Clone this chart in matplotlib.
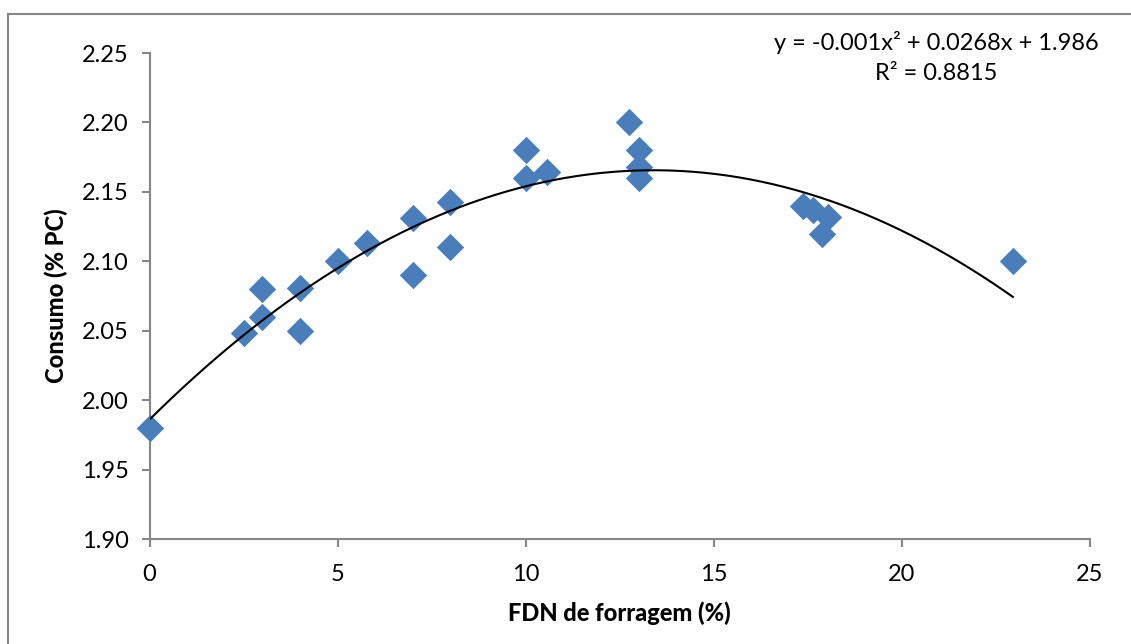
import numpy as np
import matplotlib
matplotlib.use("Agg")
import matplotlib.pyplot as plt
from matplotlib.lines import Line2D

# Data
fdn = [0.0, 2.5, 3.0, 3.0, 4.0, 4.0, 5.0, 5.78, 7.0, 7.0, 8.0, 8.0,
       10.0, 10.0, 10.57, 12.75, 13.0, 13.0, 13.0,
       17.37, 17.65, 18.04, 17.87, 22.95]
consumo = [1.980, 2.048, 2.080, 2.060, 2.081, 2.050, 2.100, 2.113, 2.131, 2.090, 2.143, 2.110,
           2.180, 2.160, 2.164, 2.200, 2.180, 2.168, 2.160,
           2.140, 2.137, 2.132, 2.120, 2.100]
coef = [-0.001, 0.0268, 1.986]
x_ticks = [0, 5, 10, 15, 20, 25]
y_ticks = [1.90, 1.95, 2.00, 2.05, 2.10, 2.15, 2.20, 2.25]

plt.rcParams['font.family'] = ['Lato', 'DejaVu Sans']

W, H = 1131, 644
fig = plt.figure(figsize=(W / 100, H / 100), dpi=100)
ax = fig.add_axes([149.5 / W, 1 - 539 / H, (1090 - 149.5) / W, (539 - 53) / H])

gray = '#868686'
ax.scatter(fdn, consumo, marker='D', s=195, color='#4A7EBB', linewidths=0, zorder=3, clip_on=False)

xs = np.linspace(0, max(fdn), 300)
ax.plot(xs, np.polyval(coef, xs), color='black', lw=1.5, zorder=4)

ax.set_xlim(0, 25)
ax.set_ylim(1.90, 2.25)
ax.set_xticks(x_ticks)
ax.set_xticklabels([str(t) for t in x_ticks])
ax.set_yticks(y_ticks)
ax.set_yticklabels([f"{t:.2f}" for t in y_ticks])

for s in ['top', 'right']:
    ax.spines[s].set_visible(False)
for s in ['left', 'bottom']:
    ax.spines[s].set_color(gray)
    ax.spines[s].set_linewidth(1.5)
ax.tick_params(axis='both', direction='out', length=6, width=1.5, color=gray,
               labelsize=17, labelcolor='black')
ax.tick_params(axis='y', pad=9)
ax.tick_params(axis='x', pad=12)

ax.set_xlabel('FDN de forragem (%)', fontsize=17, fontweight='black', labelpad=12)
ax.set_ylabel('Consumo (% PC)', fontsize=17, fontweight='black', labelpad=10)

fig.text(936 / W, 1 - 42 / H, 'y = -0.001x² + 0.0268x + 1.986', ha='center', va='center', fontsize=17)
fig.text(936 / W, 1 - 73 / H, 'R² = 0.8815', ha='center', va='center', fontsize=17)

# outer chart border (left and top visible)
fig.add_artist(Line2D([8 / W, 8 / W], [0, 1 - 14 / H], transform=fig.transFigure, color=gray, lw=1.5))
fig.add_artist(Line2D([8 / W, 1], [1 - 14 / H, 1 - 14 / H], transform=fig.transFigure, color=gray, lw=1.5))

fig.savefig('out.png', dpi=100)
